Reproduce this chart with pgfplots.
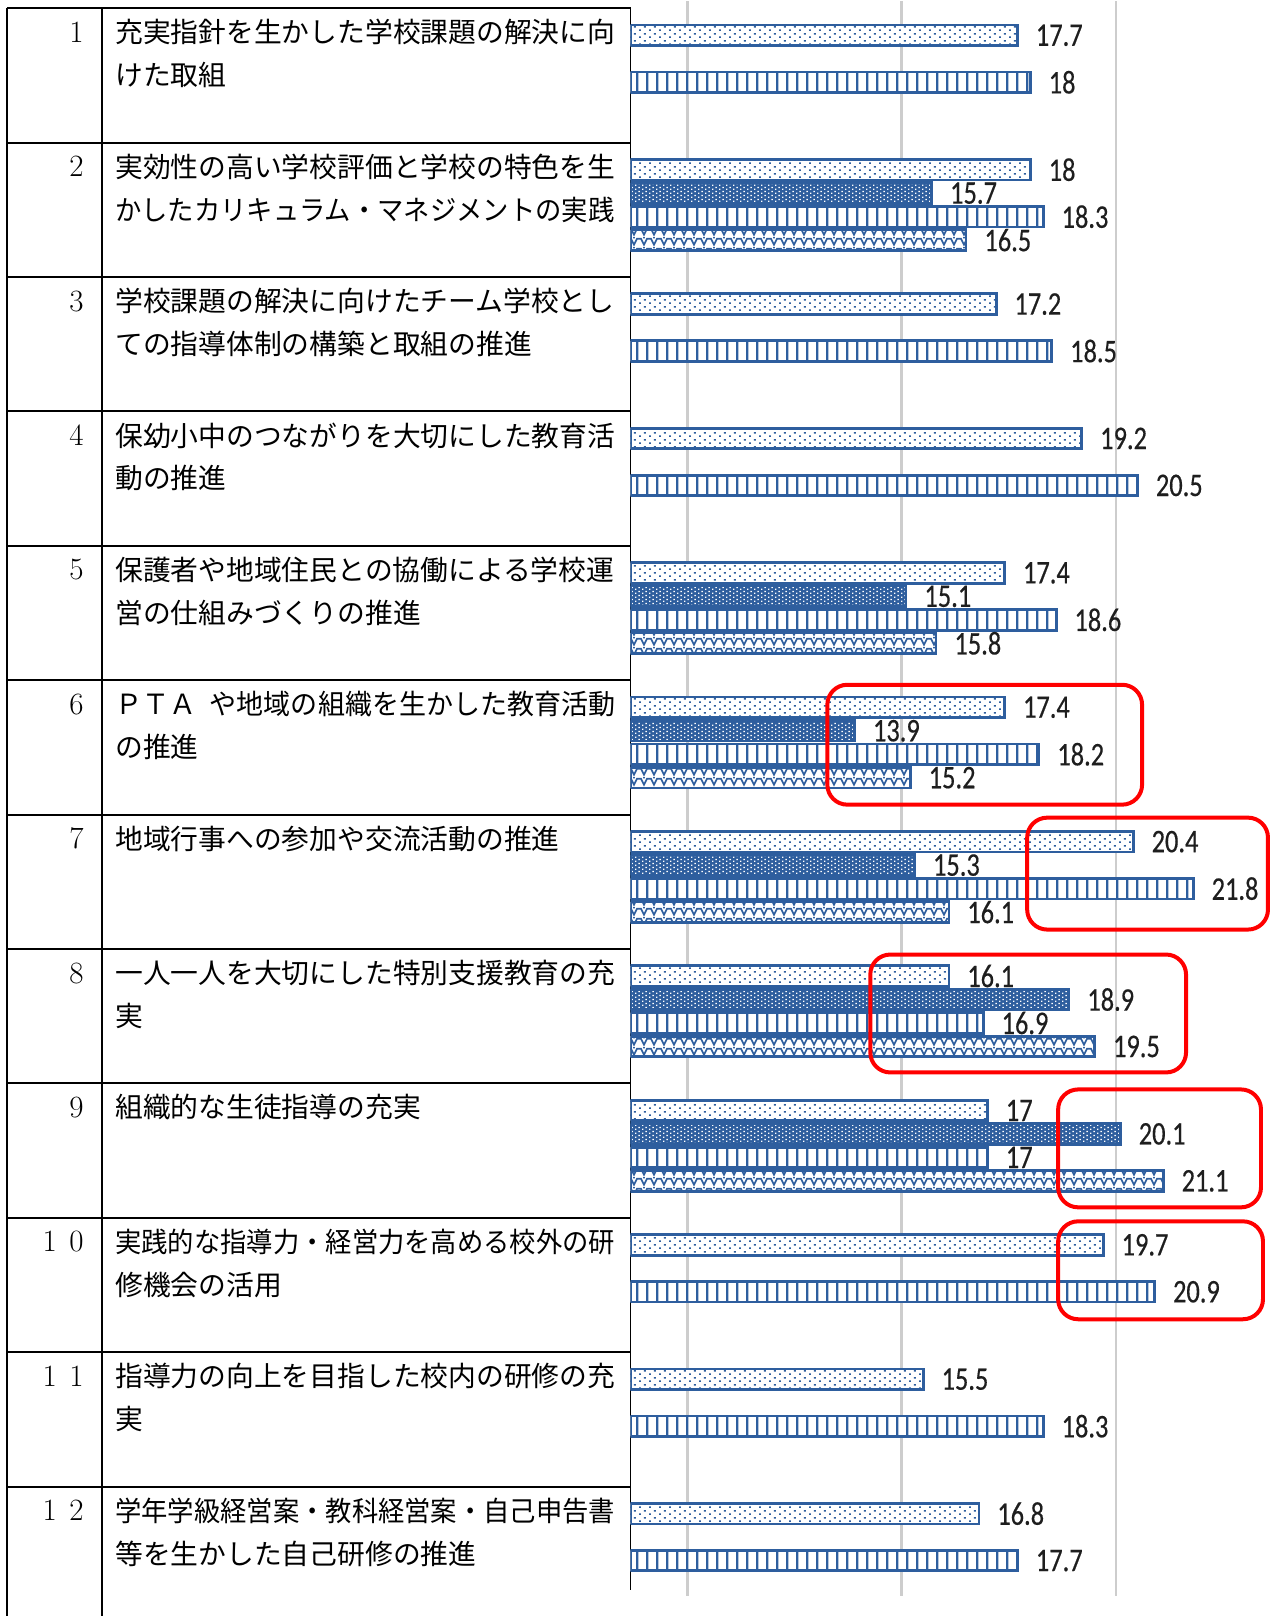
\documentclass[border=0pt]{standalone}
\usepackage{graphicx}
\usepackage{pgfplots}
\usepackage{pgfplotstable}
\pgfplotsset{compat=1.18}
\usetikzlibrary{patterns.meta}
\usepackage{fontspec}
\newfontfamily\jp{Noto Sans CJK JP}
\newfontfamily\labf[FakeStretch=0.8,FakeBold=0.4]{Carlito}
\newcommand\jpt{\jp\fontsize{13.9pt}{16pt}\selectfont}
\newcommand\numf{\fontsize{15.5pt}{18pt}\selectfont}
\newcommand\labt{\labf\fontsize{16.5pt}{18pt}\selectfont}
\definecolor{barblue}{RGB}{46,94,158}
\definecolor{labcol}{RGB}{30,30,30}
\definecolor{gridc}{RGB}{205,205,205}

\tikzdeclarepattern{name=pdots, type=uncolored,
  bottom left={(0pt,0pt)}, top right={(5pt,3.65pt)}, tile size={(5pt,3.65pt)},
  code={\fill (0pt,0pt) rectangle (0.9pt,0.9pt); \fill (2.5pt,1.82pt) rectangle (3.4pt,2.72pt);}}
\tikzdeclarepattern{name=pcheck, type=uncolored,
  bottom left={(0pt,0pt)}, top right={(3.7pt,2.1pt)}, tile size={(3.7pt,2.1pt)},
  code={\fill (0pt,0pt) rectangle (0.8pt,0.8pt); \fill (1.85pt,1.05pt) rectangle (2.65pt,1.85pt);}}
\tikzdeclarepattern{name=pvlines, type=uncolored,
  bottom left={(0pt,0pt)}, top right={(4.9pt,2pt)}, tile size={(4.9pt,2pt)},
  code={\fill (0pt,0pt) rectangle (1.25pt,2pt);}}
\tikzdeclarepattern{name=pwave, type=uncolored,
  bottom left={(0pt,0pt)}, top right={(5pt,5pt)}, tile size={(5pt,5pt)},
  code={\draw[line width=0.85pt] (0pt,4.1pt) -- (1pt,4.1pt) -- (2.5pt,1.1pt) -- (4pt,4.1pt) -- (5pt,4.1pt);
        \fill (2.1pt,4.3pt) rectangle (2.9pt,4.9pt);}}

\pgfplotstableread{
v y
17.7 34
18 168.5
17.2 303
19.2 437.5
17.4 572
17.4 706.5
20.4 841
16.1 975.5
17 1110
19.7 1244.5
15.5 1379
16.8 1513.5
}\tA
\pgfplotstableread{
v y
15.7 192
15.1 595.5
13.9 730
15.3 864.5
18.9 999
20.1 1133.5
}\tB
\pgfplotstableread{
v y
18 81
18.3 215.5
18.5 350
20.5 484.5
18.6 619
18.2 753.5
21.8 888
16.9 1022.5
17 1157
20.9 1291.5
18.3 1426
17.7 1560.5
}\tC
\pgfplotstableread{
v y
16.5 239
15.8 642.5
15.2 777
16.1 911.5
19.5 1046
21.1 1180.5
}\tD

\pgfplotsset{
  b0/.style={xbar, bar width=10.3pt, bar shift=0pt},
  under/.style={b0, draw=none, fill=#1},
  patt/.style={b0, draw=barblue, line width=1.4pt, pattern={#1}},
  labs/.style={b0, draw=none, fill=none, nodes near coords,
     every node near coord/.append style={font=\labt, text=labcol, anchor=west, inner sep=0pt, xshift=9pt}},
}

\begin{document}
\begin{tikzpicture}
\begin{scope}[x=0.5pt,y=-0.5pt]
\useasboundingbox (0,0) rectangle (1276,1616);
% table
\draw[line width=1pt] (7,7) -- (631,7);
\foreach \t in {141.5,276,410.5,545,679.5,814,948.5,1083,1217.5,1352,1486.5}
  \draw[line width=1pt] (7,\t) -- (631,\t);
\draw[line width=1pt] (7,7) -- (7,1616);
\draw[line width=1pt] (102,7) -- (102,1616);
\draw[line width=1pt] (631,7) -- (631,1590);
% numbers
\foreach \t/\n in {7/1,141.5/2,276/3,410.5/4,545/5,679.5/6,814/7,948.5/8,1083/9}
  \node[anchor=east, inner sep=0pt, font=\numf] at (84,\t+24) {\n};
\node[anchor=east, inner sep=0pt, font=\numf] at (84,1217.5+24) {1\hspace{0.4em}0};
\node[anchor=east, inner sep=0pt, font=\numf] at (84,1352+24) {1\hspace{0.4em}1};
\node[anchor=east, inner sep=0pt, font=\numf] at (84,1486.5+24) {1\hspace{0.4em}2};
% texts
\tikzset{jl/.style={anchor=west, inner sep=0pt, font=\jpt}}
\node[jl] at (115,31) {充実指針を生かした学校課題の解決に向};
\node[jl] at (115,74) {けた取組};
\node[jl] at (115,165.5) {実効性の高い学校評価と学校の特色を生};
\node[jl] at (115,208.5) {\scalebox{0.947}[1]{かしたカリキュラム・マネジメントの実践}};
\node[jl] at (115,300) {学校課題の解決に向けたチーム学校とし};
\node[jl] at (115,343) {ての指導体制の構築と取組の推進};
\node[jl] at (115,434.5) {保幼小中のつながりを大切にした教育活};
\node[jl] at (115,477.5) {動の推進};
\node[jl] at (115,569) {保護者や地域住民との協働による学校運};
\node[jl] at (115,612) {営の仕組みづくりの推進};
\node[jl] at (115,703.5) {\scalebox{0.973}[1]{ＰＴＡ\hspace{0.5em}や地域の組織を生かした教育活動}};
\node[jl] at (115,746.5) {の推進};
\node[jl] at (115,838) {地域行事への参加や交流活動の推進};
\node[jl] at (115,972.5) {一人一人を大切にした特別支援教育の充};
\node[jl] at (115,1015.5) {実};
\node[jl] at (115,1107) {組織的な生徒指導の充実};
\node[jl] at (115,1241.5) {\scalebox{0.947}[1]{実践的な指導力・経営力を高める校外の研}};
\node[jl] at (115,1284.5) {修機会の活用};
\node[jl] at (115,1376) {指導力の向上を目指した校内の研修の充};
\node[jl] at (115,1419) {実};
\node[jl] at (115,1510.5) {\scalebox{0.947}[1]{学年学級経営案・教科経営案・自己申告書}};
\node[jl] at (115,1553.5) {等を生かした自己研修の推進};
\end{scope}

\begin{axis}[
  at={(315.5pt,0pt)}, anchor=north west,
  scale only axis, width=322.5pt, height=798pt,
  xmin=8.671, xmax=23.706, ymin=0, ymax=1596, y dir=reverse,
  axis line style={draw=none}, tick style={draw=none},
  xtick={10,15,20}, xticklabels={}, ytick=\empty,
  xmajorgrids, grid style={draw=gridc, line width=1.3pt},
  /pgf/number format/assume math mode=true,
]
\addplot[under=white] table[x=v,y=y] {\tA};
\addplot[under=barblue] table[x=v,y=y] {\tB};
\addplot[under=white] table[x=v,y=y] {\tC};
\addplot[under=white] table[x=v,y=y] {\tD};
\addplot[patt=pdots, pattern color=barblue] table[x=v,y=y] {\tA};
\addplot[patt=pcheck, pattern color=white] table[x=v,y=y] {\tB};
\addplot[patt=pvlines, pattern color=barblue] table[x=v,y=y] {\tC};
\addplot[patt=pwave, pattern color=barblue] table[x=v,y=y] {\tD};
\addplot[labs] table[x=v,y=y] {\tA};
\addplot[labs] table[x=v,y=y] {\tB};
\addplot[labs] table[x=v,y=y] {\tC};
\addplot[labs] table[x=v,y=y] {\tD};
\end{axis}

\begin{scope}[x=0.5pt,y=-0.5pt]
\tikzset{rb/.style={draw=red, line width=2pt, rounded corners=10pt}}
\draw[rb] (828,684) rectangle (1143,804);
\draw[rb] (1028,817) rectangle (1269,929);
\draw[rb] (871,954) rectangle (1187,1072);
\draw[rb] (1059,1089) rectangle (1262,1207);
\draw[rb] (1059,1221) rectangle (1264,1319);
\end{scope}
\end{tikzpicture}
\end{document}
